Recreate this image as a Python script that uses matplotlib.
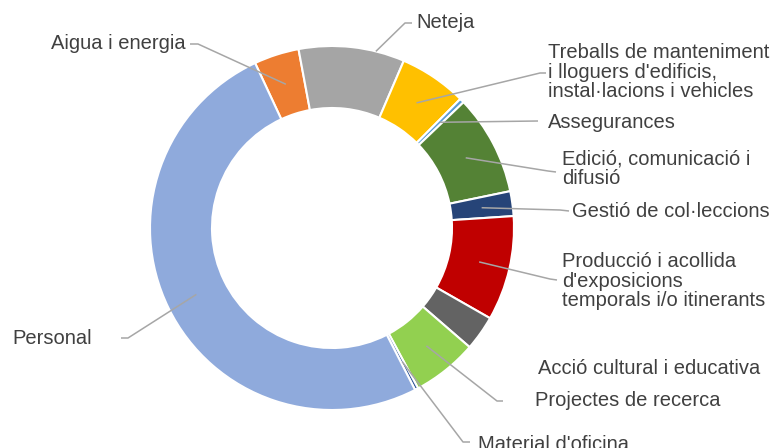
import matplotlib.pyplot as plt
import numpy as np

# categories, clockwise from the orange slice
labels = ["Aigua i energia", "Neteja",
          "Treballs de manteniment\ni lloguers d'edificis,\ninstal·lacions i vehicles",
          "Assegurances", "Edició, comunicació i\ndifusió", "Gestió de col·leccions",
          "Producció i acollida\nd'exposicions\ntemporals i/o itinerants",
          "Acció cultural i educativa", "Projectes de recerca",
          "Material d'oficina", "Personal"]
shares = [4.0, 9.4, 6.0, 0.4, 8.9, 2.2, 9.3, 3.1, 5.8, 0.3, 50.6]
colors = ["#ED7D31", "#A5A5A5", "#FFC000", "#5B9BD5", "#548235", "#264478",
          "#C00000", "#636363", "#92D050", "#2F5597", "#8FAADC"]

# label layout in pixels (x, y, ha), elbow of leader line, stub end
text_pos = [(186, 43, "right"), (416, 22, "left"), (548, 72, "left"),
            (548, 122, "left"), (562, 169, "left"), (572, 211, "left"),
            (562, 281, "left"), (538, 368, "left"), (535, 400, "left"),
            (478, 444, "left"), (92, 338, "right")]
elbows = [(198, 44), (405, 23), (540, 73), (538, 121), (548, 171), (560, 210),
          (550, 279), None, (497, 401), (463, 442), (128, 338)]
stubs = [(190, 44), (412, 23), (546, 73), (538, 121), (556, 172), (569, 211),
         (557, 280), None, (503, 401), (470, 442), (121, 338)]
to_edge = [False, True, False, False, False, False, False, False, False, False, False]

H = 448
cx, cy = 332, 228
R, width = 182, 62

fig = plt.figure(figsize=(7.72, 4.48), dpi=100)
ax = fig.add_axes([0, 0, 1, 1])
ax.pie(shares, colors=colors, startangle=115, counterclock=False,
       center=(cx, H - cy), radius=R,
       wedgeprops=dict(width=width, edgecolor="white", linewidth=1.5))
ax.set_xlim(0, 772)
ax.set_ylim(0, H)
ax.set_aspect("auto")
ax.axis("off")

# mid angle of every slice, clockwise from top
cum = np.cumsum([0] + shares)
start = -25.0
mids = start + (cum[:-1] + cum[1:]) / 2 / sum(shares) * 360
rmid = R - width / 2

for i, lab in enumerate(labels):
    tx, ty, ha = text_pos[i]
    ax.text(tx, H - ty, lab, ha=ha, va="center", fontsize=14.5, color="#404040",
            family="Liberation Sans", linespacing=1.06)
    if elbows[i] is None:
        continue
    a = np.radians(mids[i])
    px, py = cx + rmid * np.sin(a), cy - rmid * np.cos(a)
    ex, ey = elbows[i]
    if to_edge[i]:
        # stop the line where it meets the outer edge
        d = np.array([px - ex, py - ey])
        o = np.array([ex - cx, ey - cy])
        A = d @ d
        B = 2 * o @ d
        C = o @ o - R ** 2
        t = (-B - np.sqrt(B * B - 4 * A * C)) / (2 * A)
        px, py = ex + t * d[0], ey + t * d[1]
    sx, sy = stubs[i]
    ax.plot([px, ex, sx], [H - py, H - ey, H - sy], color="#A6A6A6", lw=1.1,
            solid_capstyle="butt")

fig.savefig("out.png", dpi=100)
